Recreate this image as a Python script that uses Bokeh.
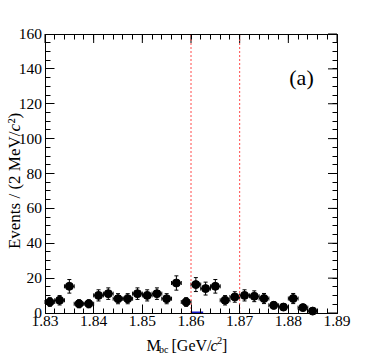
import math
from bokeh.plotting import figure
from bokeh.models import (FixedTicker, LinearAxis, Label, Whisker,
                          ColumnDataSource, TeeHead, Range1d)
from bokeh.embed import file_html
from bokeh.resources import INLINE

# ---- data ----
mbc = [1.831, 1.833, 1.835, 1.837, 1.839, 1.841, 1.843, 1.845, 1.847, 1.849,
       1.851, 1.853, 1.855, 1.857, 1.859, 1.861, 1.863, 1.865, 1.867, 1.869,
       1.871, 1.873, 1.875, 1.877, 1.879, 1.881, 1.883, 1.885]
events = [6.3, 7.3, 15.3, 5.3, 5.3, 10.1, 11.1, 8.2, 8.2, 11.1,
          10.1, 11.1, 8.2, 17.2, 6.3, 16.3, 14.0, 15.3, 7.3, 9.2,
          10.1, 9.6, 8.3, 4.4, 3.4, 8.3, 3.1, 1.1]
err = [2.5, 2.7, 3.9, 2.3, 2.3, 3.2, 3.3, 2.9, 2.9, 3.3,
       3.2, 3.3, 2.9, 4.1, 2.5, 4.0, 3.7, 3.9, 2.7, 3.0,
       3.2, 3.1, 2.9, 2.1, 1.8, 2.9, 1.8, 1.0]
half_bin = 0.001
cut_lines = [1.86, 1.87]
signal_x = [1.8600, 1.8625]
signal_y = [0.3, 0.3]
x_ticks = [1.83, 1.84, 1.85, 1.86, 1.87, 1.88, 1.89]
x_tick_labels = ["1.83", "1.84", "1.85", "1.86", "1.87", "1.88", "1.89"]
x_minor = [round(1.83 + 0.002 * i, 3) for i in range(31)]
y_ticks = [0, 20, 40, 60, 80, 100, 120, 140, 160]
y_minor = list(range(0, 161, 5))

FONT = "Liberation Serif"
X0, X1, Y0, Y1 = 1.83, 1.89, 0, 160

# ---- layout: the frame fills the canvas, the axes sit at fixed places ----
W, H = 374, 357
PL, PR, PT, PB = 44.5, 336.5, 33.5, 312.5   # pixel box of the data area
fx = (X1 - X0) / (PR - PL)
fy = (Y1 - Y0) / (PB - PT)
xs, xe = X0 - PL * fx, X1 + (W - PR) * fx
ys, ye = Y0 - (H - PB) * fy, Y1 + PT * fy

def dx(px):
    return xs + px * fx

def dy(py):
    return ye - py * fy

p = figure(width=W, height=H, output_backend="svg", toolbar_location=None,
           x_range=Range1d(xs, xe), y_range=Range1d(ys, ye),
           x_axis_location=None, y_axis_location=None,
           min_border=0)
p.grid.visible = False
p.outline_line_color = None
p.background_fill_color = "white"
p.border_fill_color = "white"

def style(ax, ticks, minor, bounds, overrides=None):
    ax.ticker = FixedTicker(ticks=ticks, minor_ticks=minor)
    ax.bounds = bounds
    ax.major_tick_in = 9
    ax.major_tick_out = 0
    ax.minor_tick_in = 5
    ax.minor_tick_out = 0
    ax.axis_line_color = "black"
    ax.major_tick_line_color = "black"
    ax.minor_tick_line_color = "black"
    ax.major_label_text_font = FONT
    ax.major_label_text_font_size = "15.5px"
    ax.major_label_text_color = "black"
    ax.major_label_standoff = 3
    if overrides:
        ax.major_label_overrides = overrides

bx = LinearAxis(fixed_location=Y0)
style(bx, x_ticks, x_minor, (X0, X1), dict(zip(x_ticks, x_tick_labels)))
p.add_layout(bx, "below")
ly = LinearAxis(fixed_location=X0)
style(ly, y_ticks, y_minor, (Y0, Y1), {t: str(t) for t in y_ticks})
p.add_layout(ly, "left")
tx = LinearAxis(fixed_location=Y1)
style(tx, [], x_minor, (X0, X1))
p.add_layout(tx, "above")
ry = LinearAxis(fixed_location=X1)
style(ry, [], y_minor, (Y0, Y1))
p.add_layout(ry, "right")

# major ticks on top / right edges
p.segment(x0=x_ticks, x1=x_ticks, y0=[Y1] * len(x_ticks),
          y1=[Y1 - 9 * fy] * len(x_ticks), line_color="black", line_width=1)
p.segment(x0=[X1] * len(y_ticks), x1=[X1 - 9 * fx] * len(y_ticks),
          y0=y_ticks, y1=y_ticks, line_color="black", line_width=1)

# cut lines
p.segment(x0=cut_lines, x1=cut_lines, y0=[Y0] * len(cut_lines),
          y1=[Y1] * len(cut_lines), line_color="#ff4a4a",
          line_dash="2 2", line_width=1)

# signal histogram (tiny)
p.line(signal_x, signal_y, line_color="#1a1acc", line_width=2)

src = ColumnDataSource(dict(
    x=mbc, y=events,
    lo=[v - e for v, e in zip(events, err)],
    hi=[v + e for v, e in zip(events, err)],
    xl=[x - half_bin for x in mbc],
    xh=[x + half_bin for x in mbc],
))
p.add_layout(Whisker(source=src, base="x", lower="lo", upper="hi",
                     dimension="height", line_color="black", line_width=1,
                     upper_head=TeeHead(size=4, line_color="black"),
                     lower_head=TeeHead(size=4, line_color="black")))
p.add_layout(Whisker(source=src, base="y", lower="xl", upper="xh",
                     dimension="width", line_color="black", line_width=1,
                     upper_head=TeeHead(size=4, line_color="black"),
                     lower_head=TeeHead(size=4, line_color="black")))
p.scatter("x", "y", source=src, size=8, marker="circle",
          fill_color="black", line_color="black")

def lab(px, py, t, size="16px", style="normal", align="left", angle=0.0,
        baseline="alphabetic"):
    p.add_layout(Label(x=dx(px), y=dy(py), text=t, text_font=FONT,
                       text_font_size=size, text_font_style=style,
                       text_align=align, angle=angle,
                       text_baseline=baseline, text_color="black"))

# panel label
lab(301, 77, "(a)", size="22px", align="center")

# x-axis title: M_bc [GeV/c^2]
lab(146, 345, "M")
lab(158.5, 349, "bc", size="10px")
lab(171, 345, "[GeV/")
lab(210, 345, "c", style="italic")
lab(216.5, 339.5, "2", size="10.5px")
lab(221.5, 345, "]")

# y-axis title: Events / (2 MeV/c^2)
lab(14, 131, "Events / (2 MeV/", size="17px", align="right",
    angle=math.pi / 2, baseline="middle")
lab(14, 131, "c", size="17px", style="italic", align="left",
    angle=math.pi / 2, baseline="middle")
lab(14, 123, "²)", size="17px", align="left",
    angle=math.pi / 2, baseline="middle")

open("out.html", "w").write(file_html(p, INLINE))
